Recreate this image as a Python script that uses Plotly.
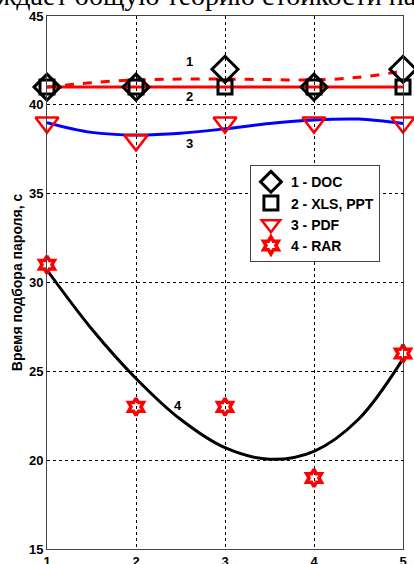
import plotly.graph_objects as go

# ---- data ----
x_points = [1, 2, 3, 4, 5]
doc_vals = [41, 41, 42, 41, 42]
xls_vals = [41, 41, 41, 41, 41]
pdf_vals = [39, 38, 39, 39, 39]
rar_vals = [31, 23, 23, 19, 26]

# fitted curves
fit_x = [1, 1.5, 2, 2.5, 3, 3.5, 4, 4.5, 5]
doc_fit = [41.0, 41.25, 41.4, 41.45, 41.45, 41.42, 41.4, 41.55, 41.9]
xls_fit = [41.0, 41.0, 41.0, 41.0, 41.0, 41.0, 41.0, 41.0, 41.0]
pdf_fit = [39.0, 38.45, 38.3, 38.4, 38.65, 38.95, 39.15, 39.2, 38.95]
rar_fit = [30.7, 27.4, 24.6, 22.3, 20.7, 20.05, 20.5, 22.3, 25.7]

legend_names = ["1 - DOC", "2 - XLS, PPT", "3 - PDF", "4 - RAR"]
curve_labels = ["1", "2", "3", "4"]
label_x = [2.6, 2.6, 2.6, 2.47]
label_y = [42.45, 40.45, 37.85, 23.1]

x_ticks = [1, 2, 3, 4, 5]
y_ticks = [15, 20, 25, 30, 35, 40, 45]
y_title = "Время подбора пароля, с"
page_text = "ждает общую теорию стойкости на"

FONT = "Arial, Liberation Sans, sans-serif"

fig = go.Figure()

# fit curves (no legend)
fig.add_trace(go.Scatter(x=fit_x, y=rar_fit, mode="lines", line=dict(color="black", width=3, shape="spline"),
                         showlegend=False, hoverinfo="skip"))
fig.add_trace(go.Scatter(x=fit_x, y=pdf_fit, mode="lines", line=dict(color="#0000ff", width=3, shape="spline"),
                         showlegend=False, hoverinfo="skip"))
fig.add_trace(go.Scatter(x=fit_x, y=xls_fit, mode="lines", line=dict(color="#ff0000", width=3),
                         showlegend=False, hoverinfo="skip"))
fig.add_trace(go.Scatter(x=fit_x, y=doc_fit, mode="lines",
                         line=dict(color="#ff0000", width=3, dash="dash", shape="spline"),
                         showlegend=False, hoverinfo="skip"))

# markers
fig.add_trace(go.Scatter(x=x_points, y=doc_vals, mode="markers", name=f"<b>{legend_names[0]}</b>", cliponaxis=False,
                         marker=dict(symbol="diamond-open", size=20, color="black", line=dict(width=3, color="black"))))
fig.add_trace(go.Scatter(x=x_points, y=xls_vals, mode="markers", name=f"<b>{legend_names[1]}</b>", cliponaxis=False,
                         marker=dict(symbol="square-open", size=14, color="black", line=dict(width=3, color="black"))))
fig.add_trace(go.Scatter(x=x_points, y=pdf_vals, mode="markers", name=f"<b>{legend_names[2]}</b>", cliponaxis=False,
                         marker=dict(symbol="triangle-down-open", size=20, color="#ff0000", line=dict(width=2.5, color="#ff0000"))))
fig.add_trace(go.Scatter(x=x_points, y=rar_vals, mode="markers", name=f"<b>{legend_names[3]}</b>", cliponaxis=False,
                         marker=dict(symbol="hexagram-open", size=13, color="#ff0000", line=dict(width=3.5, color="#ff0000"))))

for t, lx, ly in zip(curve_labels, label_x, label_y):
    fig.add_annotation(x=lx, y=ly, text=f"<b>{t}</b>", showarrow=False,
                       font=dict(family=FONT, size=13, color="black"))

fig.add_annotation(xref="paper", yref="paper", x=(206 - 47) / 356, y=1.0, yanchor="bottom", xanchor="center",
                   text=page_text, showarrow=False, yshift=3,
                   font=dict(family="Liberation Serif, Times New Roman, serif", size=28, color="black"))

axis_common = dict(showline=True, linecolor="#444444", linewidth=1, mirror=True, automargin=False,
                   showgrid=True, gridcolor="black", griddash="dot", gridwidth=1,
                   zeroline=False, ticks="", tickfont=dict(family=FONT, size=13, color="black"))

fig.update_xaxes(range=[1, 5], tickvals=x_ticks, ticktext=[f"<b>{v}</b>" for v in x_ticks], ticklabelstandoff=0,
                 **axis_common)
fig.update_yaxes(range=[15, 45], tickvals=y_ticks, ticktext=[f"<b>{v}</b>" for v in y_ticks],
                 title=dict(text=f"<b>{y_title}</b>", standoff=3,
                            font=dict(family=FONT, size=14, color="black")),
                 **axis_common)

fig.update_layout(
    width=414, height=564,
    margin=dict(l=47, r=11, t=16, b=15),
    paper_bgcolor="white", plot_bgcolor="white",
    legend=dict(x=0.57, y=0.72, xanchor="left", yanchor="top",
                bgcolor="white", bordercolor="#444444", borderwidth=1,
                font=dict(family=FONT, size=14, color="black"),
                tracegroupgap=0, itemsizing="trace"),
)

fig.write_html("out.html", config={"displayModeBar": False},
               post_script="document.body.style.margin='0';document.body.style.overflow='hidden';")
